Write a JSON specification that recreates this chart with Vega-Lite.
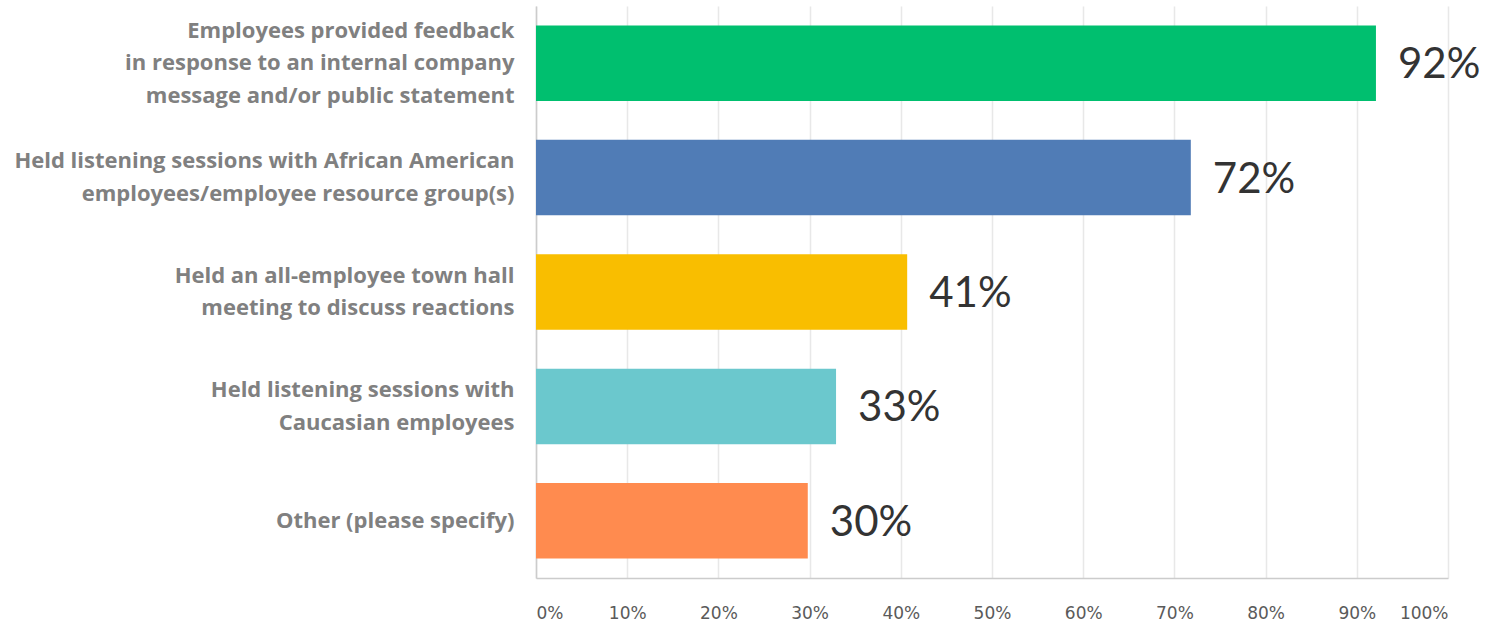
{
  "$schema": "https://vega.github.io/schema/vega-lite/v6.json",
  "width": 912,
  "height": 572,
  "autosize": "none",
  "padding": {"left": 536, "top": 6, "right": 48, "bottom": 47},
  "background": "white",
  "config": {"view": {"stroke": null}},
  "data": {
    "values": [
      {"label": "Employees provided feedback\nin response to an internal company\nmessage and/or public statement", "value": 92.1, "text": "92%", "order": 1},
      {"label": "Held listening sessions with African American\nemployees/employee resource group(s)", "value": 71.8, "text": "72%", "order": 2},
      {"label": "Held an all-employee town hall\nmeeting to discuss reactions", "value": 40.7, "text": "41%", "order": 3},
      {"label": "Held listening sessions with\nCaucasian employees", "value": 32.9, "text": "33%", "order": 4},
      {"label": "Other (please specify)", "value": 29.8, "text": "30%", "order": 5}
    ]
  },
  "encoding": {
    "y": {
      "field": "label",
      "type": "nominal",
      "sort": {"field": "order"},
      "scale": {"paddingInner": 0.34, "paddingOuter": 0.17},
      "axis": {
        "title": null,
        "ticks": false,
        "labelExpr": "split(datum.label, '\\n')",
        "labelFont": "Open Sans",
        "labelFontWeight": "bold",
        "labelFontSize": 22,
        "labelLineHeight": 32.5,
        "labelColor": "#808080",
        "labelPadding": 22,
        "labelLimit": 600,
        "labelOffset": {
          "condition": [
            {"test": "length(split(datum.value, '\\n')) == 3", "value": -32.5},
            {"test": "length(split(datum.value, '\\n')) == 2", "value": -16.25}
          ],
          "value": 0
        },
        "domainColor": "#cccccc",
        "domainWidth": 1.5
      }
    },
    "x": {
      "field": "value",
      "type": "quantitative",
      "scale": {"domain": [0, 100], "nice": false},
      "axis": {
        "title": null,
        "values": [0, 10, 20, 30, 40, 50, 60, 70, 80, 90, 100],
        "labelExpr": "datum.value + '%'",
        "ticks": false,
        "labelFlush": true,
        "labelFont": "DejaVu Sans",
        "labelFontSize": 17,
        "labelColor": "#5a5a5a",
        "labelPadding": 27,
        "gridColor": "#e8e8e8",
        "gridWidth": 1.5,
        "domainColor": "#cccccc",
        "domainWidth": 1.5
      }
    }
  },
  "layer": [
    {
      "mark": {"type": "bar"},
      "encoding": {
        "color": {
          "field": "label",
          "type": "nominal",
          "sort": {"field": "order"},
          "scale": {"range": ["#00BF6F", "#507CB6", "#F9BE00", "#6BC8CD", "#FF8B4F"]},
          "legend": null
        }
      }
    },
    {
      "mark": {"type": "text", "align": "left", "baseline": "middle", "dx": 22, "dy": 2, "font": "Lato", "fontSize": 42, "color": "#333333"},
      "encoding": {"text": {"field": "text"}}
    }
  ]
}
